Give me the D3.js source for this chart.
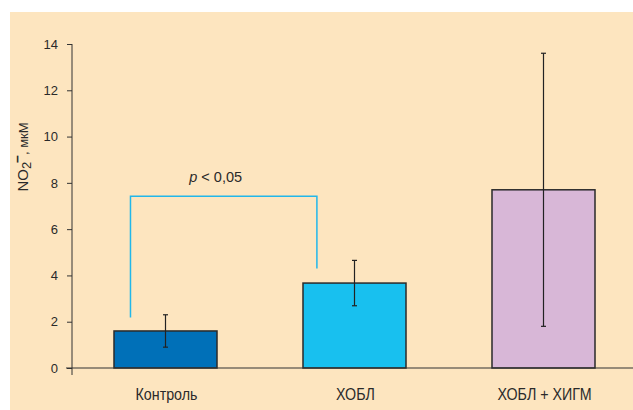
<!DOCTYPE html>
<html>
<head>
<meta charset="utf-8">
<script src="https://cdn.jsdelivr.net/npm/d3@7"></script>
<style>
  html, body { margin: 0; padding: 0; background: #ffffff; }
  svg { display: block; }
  text { font-family: "Liberation Sans", Arial, sans-serif; fill: #2a2a2a; }
</style>
</head>
<body>
<svg id="chart" width="633" height="410"></svg>
<script>
// Groups and mean NO2- concentration (µM) with error half-widths
const categories = ["Контроль", "ХОБЛ", "ХОБЛ + ХИГМ"];
const means = [1.6, 3.67, 7.7];
const errors = [0.7, 0.98, 5.9];
const barColors = ["#0070b8", "#18c0ef", "#d8b7d7"];
const yTicks = [0, 2, 4, 6, 8, 10, 12, 14];

// Significance bracket between the first two groups
const bracketPair = [0, 1];
const bracketLevel = 7.42;
const bracketEnds = [2.18, 4.3];
const bracketLabel = "0,05";

const W = 633, H = 410;
const svg = d3.select("#chart");

// panel background
svg.append("rect")
  .attr("x", 10).attr("y", 12)
  .attr("width", W - 10).attr("height", H - 12)
  .attr("fill", "#fde5bf");

const y = d3.scaleLinear().domain([0, 14]).range([368, 44]);
const x = d3.scaleBand().domain(categories)
  .range([71, 638])
  .paddingInner(0.455).paddingOuter(0.2275);

const axisX = 72;

// y axis
const yAxis = svg.append("g")
  .attr("transform", `translate(${axisX},0)`)
  .call(d3.axisLeft(y).tickValues(yTicks).tickSize(5).tickSizeOuter(0).tickPadding(9));
yAxis.select(".domain").remove();
yAxis.selectAll(".tick line").attr("stroke", "#333").attr("stroke-width", 1);
yAxis.selectAll(".tick text")
  .style("font-family", '"Liberation Sans", Arial, sans-serif')
  .style("font-size", "13px").attr("fill", "#2a2a2a");
svg.append("line")
  .attr("x1", axisX).attr("x2", axisX)
  .attr("y1", y(14)).attr("y2", y(0) + 7)
  .attr("stroke", "#333").attr("stroke-width", 1);

// bars
svg.selectAll("rect.bar")
  .data(categories)
  .join("rect")
  .attr("class", "bar")
  .attr("x", d => x(d))
  .attr("width", x.bandwidth())
  .attr("y", (d, i) => y(means[i]))
  .attr("height", (d, i) => y(0) - y(means[i]))
  .attr("fill", (d, i) => barColors[i])
  .attr("stroke", "#2a2a2a")
  .attr("stroke-width", 1.5);

// baseline
svg.append("line")
  .attr("x1", axisX - 6).attr("x2", W)
  .attr("y1", y(0)).attr("y2", y(0))
  .attr("stroke", "#333").attr("stroke-width", 1.2);

// error bars
const eb = svg.selectAll("g.err").data(categories).join("g").attr("class", "err");
eb.append("line")
  .attr("x1", d => x(d) + x.bandwidth() / 2)
  .attr("x2", d => x(d) + x.bandwidth() / 2)
  .attr("y1", (d, i) => y(means[i] + errors[i]))
  .attr("y2", (d, i) => y(means[i] - errors[i]))
  .attr("stroke", "#222").attr("stroke-width", 1.2);
[1, -1].forEach(s => {
  eb.append("line")
    .attr("x1", d => x(d) + x.bandwidth() / 2 - 2.5)
    .attr("x2", d => x(d) + x.bandwidth() / 2 + 2.5)
    .attr("y1", (d, i) => y(means[i] + s * errors[i]))
    .attr("y2", (d, i) => y(means[i] + s * errors[i]))
    .attr("stroke", "#222").attr("stroke-width", 1.2);
});

// category labels (condensed)
svg.selectAll("text.cat")
  .data(categories)
  .join("text")
  .attr("class", "cat")
  .attr("transform", d => `translate(${x(d) + x.bandwidth() / 2 + 1},400) scale(0.84,1)`)
  .attr("text-anchor", "middle")
  .style("font-size", "17px")
  .text(d => d);

// significance bracket
const bx0 = x(categories[bracketPair[0]]) + x.bandwidth() * 0.16;
const bx1 = x(categories[bracketPair[1]]) + x.bandwidth() * 0.135;
svg.append("path")
  .attr("d", d3.line()([
    [bx0, y(bracketEnds[0])],
    [bx0, y(bracketLevel)],
    [bx1, y(bracketLevel)],
    [bx1, y(bracketEnds[1])]
  ]))
  .attr("fill", "none")
  .attr("stroke", "#22b7ea")
  .attr("stroke-width", 1.5);

const pText = svg.append("text")
  .attr("x", (bx0 + bx1) / 2 - 8)
  .attr("y", y(bracketLevel) - 14)
  .attr("text-anchor", "middle")
  .style("font-size", "14.5px");
pText.append("tspan").attr("font-style", "italic").text("p");
pText.append("tspan").text(" < " + bracketLabel);

// y axis title: NO2 with charge, units µM
const yt = svg.append("text")
  .attr("transform", "translate(28,157) rotate(-90)")
  .attr("text-anchor", "middle")
  .style("font-size", "15px");
yt.append("tspan").text("NO");
yt.append("tspan").attr("dy", 3).style("font-size", "13px").text("2");
yt.append("tspan").attr("dy", -9).attr("dx", -1).style("font-size", "14px").attr("font-weight", "bold").text("–");
yt.append("tspan").attr("dy", 6).style("font-size", "13px").text(", мкМ");
</script>
</body>
</html>
